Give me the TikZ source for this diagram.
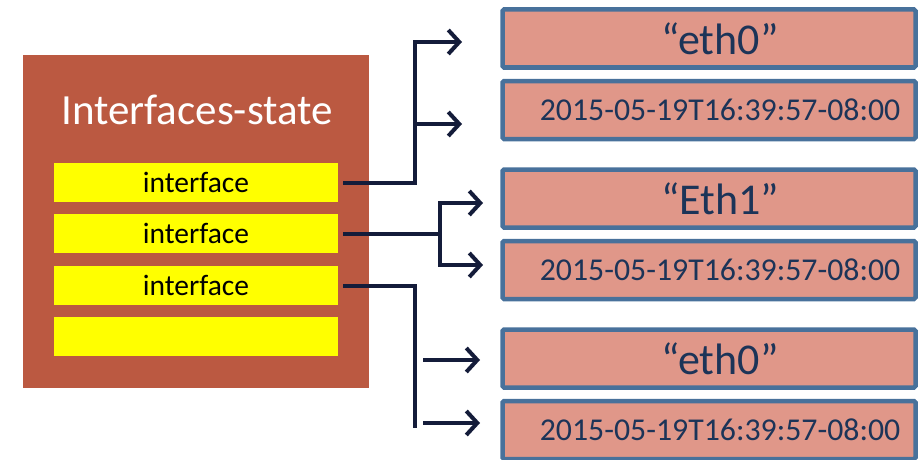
\documentclass[tikz,border=0pt]{standalone}
\usepackage{fontspec}
\setmainfont{Carlito}
\usepackage{tikz}
\usetikzlibrary{arrows.meta}
\definecolor{statered}{RGB}{187,89,65}
\definecolor{baryellow}{RGB}{255,255,0}
\definecolor{leafpink}{RGB}{224,151,137}
\definecolor{leafblue}{RGB}{72,113,155}
\definecolor{leaftext}{RGB}{28,52,88}
\definecolor{wirenavy}{RGB}{20,28,58}
\tikzset{
  statebox/.style={fill=statered, minimum width=346pt, minimum height=333pt, inner sep=0pt},
  ifbar/.style={fill=baryellow, minimum width=284pt, minimum height=39pt, inner sep=0pt, font=\fontsize{29.5}{32}\selectfont},
  leaf/.style={fill=leafpink, draw=leafblue, line width=4.5pt, rounded corners=1.5pt,
    minimum width=413pt, minimum height=58pt, inner sep=0pt, text=leaftext,
    execute at begin node=\hspace*{22pt}},
  leafname/.style={leaf, font=\fontsize{44}{48}\selectfont},
  leaftime/.style={leaf, font=\fontsize{31.8}{34}\selectfont},
  wire/.style={draw=wirenavy, line width=4pt},
  arr/.style={wire, -{Straight Barb[length=11pt,width=24pt]}}
}

\begin{document}
\begin{tikzpicture}[x=1pt, y=-1pt]
  \useasboundingbox (0,0) rectangle (923,460);

  % === STATE CONTAINER ===
  \node[statebox] (state) at (196,221.5) {};
  \node[text=white, font=\fontsize{43}{46}\selectfont] (title) at (197,110) {Interfaces-state};

  % interface list entries
  \node[ifbar] (if1) at (196,182.5) {interface};
  \node[ifbar] (if2) at (196,233.5) {interface};
  \node[ifbar] (if3) at (196,285.5) {interface};
  \node[ifbar] (if4) at (196,336.5) {};

  % === LEAF VALUES ===
  \node[leafname] (name0) at (709,38.5) {“eth0”};
  \node[leaftime] (time0) at (709,110) {2015-05-19T16:39:57-08:00};
  \node[leafname] (name1) at (709,198.5) {“Eth1”};
  \node[leaftime] (time1) at (709,270) {2015-05-19T16:39:57-08:00};
  \node[leafname] (name2) at (709,358.5) {“eth0”};
  \node[leaftime] (time2) at (709,430) {2015-05-19T16:39:57-08:00};

  % arrow tips and forks
  \coordinate (f0) at (415,42);
  \coordinate (t0a) at (462,42);
  \coordinate (t0b) at (462,124);
  \coordinate (f1) at (440,203);
  \coordinate (t1a) at (483,203);
  \coordinate (t1b) at (483,265);
  \coordinate (f2) at (415,428);
  \coordinate (t2a) at (480,360);
  \coordinate (t2b) at (480,423);

  % === CONNECTORS ===
  % first interface
  \draw[wire] ([xshift=5pt]if1.east) -| ([yshift=-2pt]f0);
  \draw[arr] ([xshift=-2pt]f0) -- (t0a);
  \draw[arr] ([xshift=-2pt]f0 |- t0b) -- (t0b);

  % second interface
  \draw[wire] ([xshift=5pt]if2.east) -- (f1 |- if2.east);
  \draw[wire] ([yshift=-2pt]f1) -- ([yshift=2pt]f1 |- t1b);
  \draw[arr] ([xshift=-2pt]f1) -- (t1a);
  \draw[arr] ([xshift=-2pt]f1 |- t1b) -- (t1b);

  % third interface
  \draw[wire] ([xshift=5pt]if3.east) -| (f2);
  \draw[arr] ([xshift=8pt]f2 |- t2a) -- (t2a);
  \draw[arr] ([xshift=8pt]f2 |- t2b) -- (t2b);

\end{tikzpicture}
\end{document}
